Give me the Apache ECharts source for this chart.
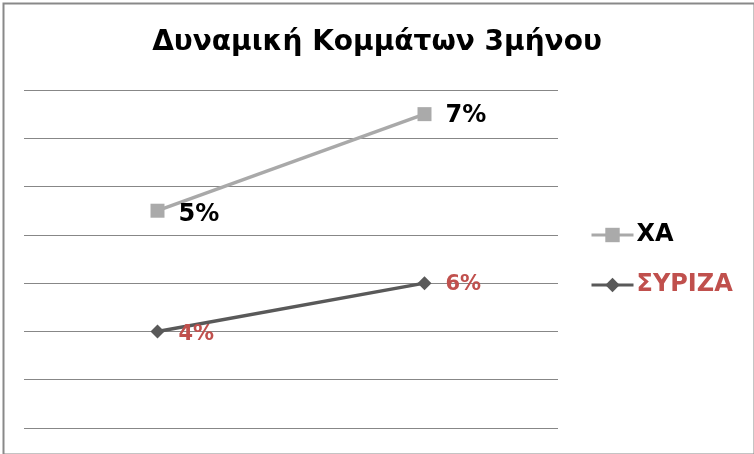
<!DOCTYPE html>
<html>
<head>
<meta charset="utf-8">
<script src="https://cdn.jsdelivr.net/npm/echarts@6/dist/echarts.min.js"></script>
<style>html,body{margin:0;padding:0;background:#fff}#c{width:754px;height:454px}</style>
</head>
<body>
<div id="c"></div>
<script>
const categories = ['Α', 'Β'];
const xaValues = [5, 7];
const syrizaValues = [4, 6];
const seriesNames = ['ΧΑ', 'ΣΥΡΙΖΑ'];
const titleText = 'Δυναμική Κομμάτων 3μήνου';

const chart = echarts.init(document.getElementById('c'), null, {renderer: 'canvas'});
const font = '"DejaVu Sans", "Open Sans", sans-serif';
chart.setOption({
  animation: false,
  backgroundColor: '#fff',
  graphic: [{
    type: 'rect', left: 1, top: 1, shape: {width: 751, height: 451},
    style: {fill: 'none', stroke: '#898989', lineWidth: 2}, silent: true
  }],
  title: {
    text: titleText, left: 'center', top: 24,
    textStyle: {fontFamily: font, fontWeight: 'bold', fontSize: 28, color: '#000'}
  },
  legend: {
    orient: 'vertical', left: 590, top: 223, itemGap: 26, padding: 0,
    itemWidth: 42, itemHeight: 18,
    lineStyle: {width: 3},
    data: [
      {name: seriesNames[0], textStyle: {color: '#000'}},
      {name: seriesNames[1], textStyle: {color: '#c0504d'}}
    ],
    textStyle: {fontFamily: font, fontWeight: 'bold', fontSize: 24, padding: [0, 0, 0, -2]}
  },
  grid: {left: 24, right: 196, top: 90, bottom: 26, containLabel: false},
  xAxis: {
    type: 'category', data: categories, boundaryGap: true,
    axisLine: {show: false}, axisTick: {show: false}, axisLabel: {show: false}
  },
  yAxis: [{
    type: 'value', min: 0, max: 14, interval: 2,
    axisLine: {show: false}, axisTick: {show: false}, axisLabel: {show: false},
    splitLine: {lineStyle: {color: '#878787', width: 1}}
  }, {
    type: 'value', min: 0.5, max: 7.5, interval: 1,
    axisLine: {show: false}, axisTick: {show: false}, axisLabel: {show: false},
    splitLine: {show: false}
  }],
  series: [{
    name: seriesNames[0], type: 'line', yAxisIndex: 1,
    data: [
      {value: xaValues[0], label: {offset: [0, 4]}},
      {value: xaValues[1], label: {offset: [0, 2]}}
    ],
    symbol: 'rect', symbolSize: 14,
    lineStyle: {color: '#a9a9a9', width: 3.5},
    itemStyle: {color: '#aaaaaa'},
    label: {
      show: true, position: 'right', distance: 14,
      formatter: p => p.value + '%',
      fontFamily: font, fontWeight: 'bold', fontSize: 24, color: '#000'
    }
  }, {
    name: seriesNames[1], type: 'line', yAxisIndex: 0,
    data: [
      {value: syrizaValues[0], label: {offset: [0, 3]}},
      {value: syrizaValues[1], label: {offset: [0, 1]}}
    ],
    symbol: 'diamond', symbolSize: 14,
    lineStyle: {color: '#595959', width: 3.5},
    itemStyle: {color: '#595959'},
    label: {
      show: true, position: 'right', distance: 14,
      formatter: p => p.value + '%',
      fontFamily: font, fontWeight: 'bold', fontSize: 21, color: '#c0504d'
    }
  }]
});
</script>
</body>
</html>
